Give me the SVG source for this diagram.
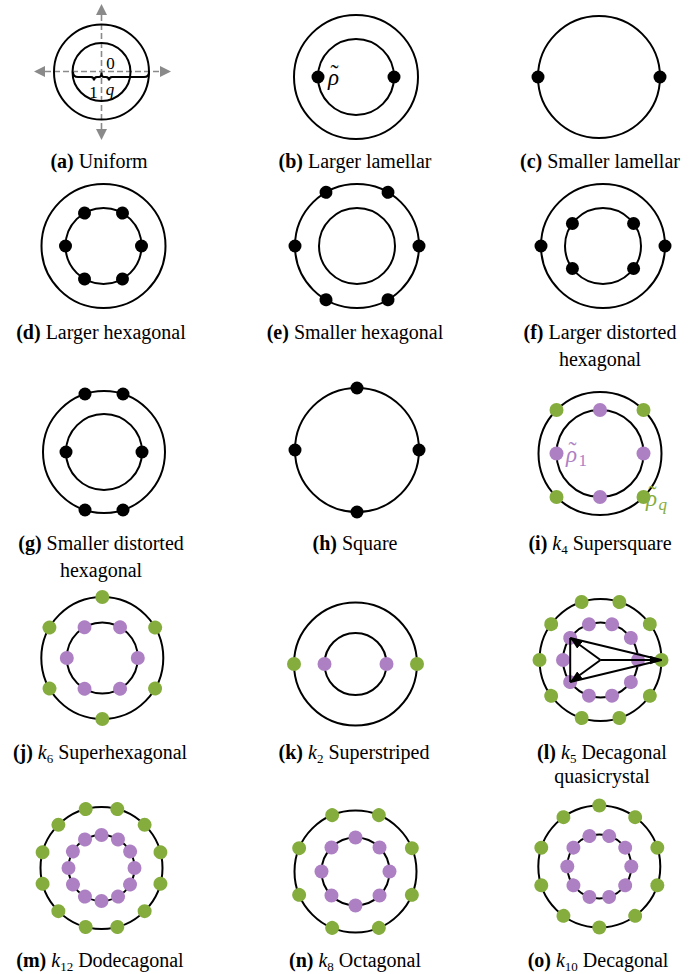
<svg xmlns="http://www.w3.org/2000/svg" width="696" height="974" viewBox="0 0 696 974">
<style>
.ring{fill:none;stroke:#000;stroke-width:2}
.bd{fill:#000}
.gd{fill:#85ad3e}
.pd{fill:#ad80c4}
.axis{stroke:#8a8a8a;stroke-width:1.6;stroke-dasharray:6,3;fill:none}
.ahd{fill:#8a8a8a}
text{font-family:'Liberation Serif','DejaVu Serif',serif}
.cap{font-size:20px;fill:#000;text-anchor:middle}
.b{font-weight:bold}
.i{font-style:italic}
.sub{font-size:13px}
.lab{font-size:17px;fill:#000}
.rho{font-size:23px;font-style:italic}
.tl{font-size:24px;font-style:normal}
.vec{stroke:#000;stroke-width:2;fill:none}
</style>
<defs>
<marker id="ah" markerWidth="12" markerHeight="9" refX="12" refY="4.5" orient="auto" markerUnits="userSpaceOnUse"><path d="M0,0 L12,4.5 L0,9 Z" fill="#000"/></marker>
</defs>

<!-- (a) -->
<g id="a">
<line class="axis" x1="101.5" y1="15" x2="101.5" y2="129"/>
<line class="axis" x1="45" y1="71.5" x2="160" y2="71.5"/>
<polygon class="ahd" points="101.5,4 96,15 107,15"/>
<polygon class="ahd" points="101.5,140 96,129 107,129"/>
<polygon class="ahd" points="34,71.5 45,66 45,77"/>
<polygon class="ahd" points="171,71.5 160,66 160,77"/>
<circle class="ring" cx="101.5" cy="72" r="47.5"/>
<circle class="ring" cx="101.5" cy="72" r="29"/>
<path class="ring" stroke-width="1.6" d="M73,72 Q73,77 78,77 L91,77 Q94,77 94,80.5 Q94,77 97,77 L99,77 Q101.5,77 101.5,72.5 Q101.5,77 104,77 L106,77 Q109,77 109,80.5 Q109,77 112,77 L144,77 Q149,77 149,72"/>
<text class="lab" x="110.5" y="69" text-anchor="middle">0</text>
<text class="lab" x="93.5" y="98" text-anchor="middle">1</text>
<text class="lab i" x="110" y="95" text-anchor="middle">q</text>
</g>
<text class="cap" x="99" y="168"><tspan class="b">(a)</tspan> Uniform</text>

<!-- (b) -->
<g id="b" transform="translate(356,77)">
<circle class="ring" r="62"/>
<circle class="ring" r="38"/>
<circle class="bd" cx="-38" r="6.5"/>
<circle class="bd" cx="38" r="6.5"/>
<text class="rho" x="-28" y="8" fill="#000">ρ<tspan class="tl" dx="-8.5" dy="-4">˜</tspan></text>
</g>
<text class="cap" x="355" y="168"><tspan class="b">(b)</tspan> Larger lamellar</text>

<!-- (c) -->
<g id="c" transform="translate(599,77)">
<circle class="ring" r="61"/>
<circle class="bd" cx="-61" r="6.5"/>
<circle class="bd" cx="61" r="6.5"/>
</g>
<text class="cap" x="600" y="168"><tspan class="b">(c)</tspan> Smaller lamellar</text>

<!-- (d) -->
<g id="d" transform="translate(103.5,246)">
<circle class="ring" r="62"/>
<circle class="ring" r="38"/>
<circle class="bd" cx="38" r="6.5"/>
<circle class="bd" cx="38" r="6.5" transform="rotate(60)"/>
<circle class="bd" cx="38" r="6.5" transform="rotate(120)"/>
<circle class="bd" cx="38" r="6.5" transform="rotate(180)"/>
<circle class="bd" cx="38" r="6.5" transform="rotate(240)"/>
<circle class="bd" cx="38" r="6.5" transform="rotate(300)"/>
</g>
<text class="cap" x="101" y="339"><tspan class="b">(d)</tspan> Larger hexagonal</text>

<!-- (e) -->
<g id="e" transform="translate(357,246)">
<circle class="ring" r="62"/>
<circle class="ring" r="38"/>
<circle class="bd" cx="62" r="6.5"/>
<circle class="bd" cx="62" r="6.5" transform="rotate(60)"/>
<circle class="bd" cx="62" r="6.5" transform="rotate(120)"/>
<circle class="bd" cx="62" r="6.5" transform="rotate(180)"/>
<circle class="bd" cx="62" r="6.5" transform="rotate(240)"/>
<circle class="bd" cx="62" r="6.5" transform="rotate(300)"/>
</g>
<text class="cap" x="355" y="339"><tspan class="b">(e)</tspan> Smaller hexagonal</text>

<!-- (f) -->
<g id="f" transform="translate(603,246)">
<circle class="ring" r="62"/>
<circle class="ring" r="38"/>
<circle class="bd" cx="-62" r="6.5"/>
<circle class="bd" cx="62" r="6.5"/>
<circle class="bd" cx="-30.6" cy="-22.5" r="6.5"/>
<circle class="bd" cx="30.6" cy="-22.5" r="6.5"/>
<circle class="bd" cx="-30.6" cy="22.5" r="6.5"/>
<circle class="bd" cx="30.6" cy="22.5" r="6.5"/>
</g>
<text class="cap" x="600" y="339"><tspan class="b">(f)</tspan> Larger distorted</text>
<text class="cap" x="600" y="366">hexagonal</text>

<!-- (g) -->
<g id="g" transform="translate(104,452)">
<circle class="ring" r="61"/>
<circle class="ring" r="38"/>
<circle class="bd" cx="-38" r="6.5"/>
<circle class="bd" cx="38" r="6.5"/>
<circle class="bd" cx="-19" cy="-58" r="6.5"/>
<circle class="bd" cx="19" cy="-58" r="6.5"/>
<circle class="bd" cx="-19" cy="58" r="6.5"/>
<circle class="bd" cx="19" cy="58" r="6.5"/>
</g>
<text class="cap" x="101" y="550"><tspan class="b">(g)</tspan> Smaller distorted</text>
<text class="cap" x="101" y="577">hexagonal</text>

<!-- (h) -->
<g id="h" transform="translate(357,450)">
<circle class="ring" r="62"/>
<circle class="bd" cx="-62" r="6.5"/>
<circle class="bd" cx="62" r="6.5"/>
<circle class="bd" cy="-62" r="6.5"/>
<circle class="bd" cy="62" r="6.5"/>
</g>
<text class="cap" x="355" y="550"><tspan class="b">(h)</tspan> Square</text>

<!-- (i) -->
<g id="i" transform="translate(600,453.5)">
<circle class="ring" r="61.5"/>
<circle class="ring" r="43.5"/>
<circle class="gd" cx="-43.5" cy="-43.5" r="7"/>
<circle class="gd" cx="43.5" cy="-43.5" r="7"/>
<circle class="gd" cx="-43.5" cy="43.5" r="7"/>
<circle class="gd" cx="43.5" cy="43.5" r="7"/>
<circle class="pd" cx="-43.5" r="7"/>
<circle class="pd" cx="43.5" r="7"/>
<circle class="pd" cy="-43.5" r="7"/>
<circle class="pd" cy="43.5" r="7"/>
<text class="rho" x="-34" y="8" fill="#ad80c4">ρ<tspan class="tl" dx="-8.5" dy="-4">˜</tspan><tspan font-style="normal" font-size="17" dx="2" dy="8">1</tspan></text>
<text class="rho" x="46" y="52" fill="#85ad3e">ρ<tspan class="tl" dx="-8.5" dy="-4">˜</tspan><tspan font-size="17" dx="2" dy="8">q</tspan></text>
</g>
<text class="cap" x="600" y="550"><tspan class="b">(i)</tspan> <tspan class="i">k</tspan><tspan class="sub" dy="4">4</tspan><tspan dy="-4"> Supersquare</tspan></text>

<!-- (j) -->
<g id="j" transform="translate(102.3,658)">
<circle class="ring" r="61"/>
<circle class="ring" r="35.5"/>
<circle class="gd" cx="61" r="7" transform="rotate(30)"/>
<circle class="gd" cx="61" r="7" transform="rotate(90)"/>
<circle class="gd" cx="61" r="7" transform="rotate(150)"/>
<circle class="gd" cx="61" r="7" transform="rotate(210)"/>
<circle class="gd" cx="61" r="7" transform="rotate(270)"/>
<circle class="gd" cx="61" r="7" transform="rotate(330)"/>
<circle class="pd" cx="35.5" r="7"/>
<circle class="pd" cx="35.5" r="7" transform="rotate(60)"/>
<circle class="pd" cx="35.5" r="7" transform="rotate(120)"/>
<circle class="pd" cx="35.5" r="7" transform="rotate(180)"/>
<circle class="pd" cx="35.5" r="7" transform="rotate(240)"/>
<circle class="pd" cx="35.5" r="7" transform="rotate(300)"/>
</g>
<text class="cap" x="100" y="759"><tspan class="b">(j)</tspan> <tspan class="i">k</tspan><tspan class="sub" dy="4">6</tspan><tspan dy="-4"> Superhexagonal</tspan></text>

<!-- (k) -->
<g id="k" transform="translate(355.5,664)">
<circle class="ring" r="61.5"/>
<circle class="ring" r="31"/>
<circle class="gd" cx="-61.5" r="7"/>
<circle class="gd" cx="61.5" r="7"/>
<circle class="pd" cx="-31" r="7"/>
<circle class="pd" cx="31" r="7"/>
</g>
<text class="cap" x="354" y="759"><tspan class="b">(k)</tspan> <tspan class="i">k</tspan><tspan class="sub" dy="4">2</tspan><tspan dy="-4"> Superstriped</tspan></text>

<!-- (l) -->
<g id="l" transform="translate(600.5,660)">
<circle class="ring" r="61"/>
<circle class="ring" r="37.5"/>
<circle class="gd" cx="61" r="7"/>
<circle class="gd" cx="61" r="7" transform="rotate(36)"/>
<circle class="gd" cx="61" r="7" transform="rotate(72)"/>
<circle class="gd" cx="61" r="7" transform="rotate(108)"/>
<circle class="gd" cx="61" r="7" transform="rotate(144)"/>
<circle class="gd" cx="61" r="7" transform="rotate(180)"/>
<circle class="gd" cx="61" r="7" transform="rotate(216)"/>
<circle class="gd" cx="61" r="7" transform="rotate(252)"/>
<circle class="gd" cx="61" r="7" transform="rotate(288)"/>
<circle class="gd" cx="61" r="7" transform="rotate(324)"/>
<circle class="pd" cx="37.5" r="7"/>
<circle class="pd" cx="37.5" r="7" transform="rotate(36)"/>
<circle class="pd" cx="37.5" r="7" transform="rotate(72)"/>
<circle class="pd" cx="37.5" r="7" transform="rotate(108)"/>
<circle class="pd" cx="37.5" r="7" transform="rotate(144)"/>
<circle class="pd" cx="37.5" r="7" transform="rotate(180)"/>
<circle class="pd" cx="37.5" r="7" transform="rotate(216)"/>
<circle class="pd" cx="37.5" r="7" transform="rotate(252)"/>
<circle class="pd" cx="37.5" r="7" transform="rotate(288)"/>
<circle class="pd" cx="37.5" r="7" transform="rotate(324)"/>
</g>
<g id="connectors">
<line class="vec" x1="570.2" y1="638" x2="570.2" y2="682"/>
<line class="vec" x1="661.5" y1="660" x2="570.2" y2="638"/>
<line class="vec" x1="661.5" y1="660" x2="570.2" y2="682"/>
<line class="vec" x1="600.5" y1="660" x2="570.2" y2="638" marker-end="url(#ah)"/>
<line class="vec" x1="600.5" y1="660" x2="570.2" y2="682" marker-end="url(#ah)"/>
<line class="vec" x1="600.5" y1="660" x2="661.5" y2="660" marker-end="url(#ah)"/>
</g>
<text class="cap" x="602" y="759"><tspan class="b">(l)</tspan> <tspan class="i">k</tspan><tspan class="sub" dy="4">5</tspan><tspan dy="-4"> Decagonal</tspan></text>
<text class="cap" x="602" y="783">quasicrystal</text>

<!-- (m) -->
<g id="m" transform="translate(101.5,868)">
<circle class="ring" r="61"/>
<circle class="ring" r="33"/>
<circle class="gd" cx="61" r="7" transform="rotate(15)"/>
<circle class="gd" cx="61" r="7" transform="rotate(45)"/>
<circle class="gd" cx="61" r="7" transform="rotate(75)"/>
<circle class="gd" cx="61" r="7" transform="rotate(105)"/>
<circle class="gd" cx="61" r="7" transform="rotate(135)"/>
<circle class="gd" cx="61" r="7" transform="rotate(165)"/>
<circle class="gd" cx="61" r="7" transform="rotate(195)"/>
<circle class="gd" cx="61" r="7" transform="rotate(225)"/>
<circle class="gd" cx="61" r="7" transform="rotate(255)"/>
<circle class="gd" cx="61" r="7" transform="rotate(285)"/>
<circle class="gd" cx="61" r="7" transform="rotate(315)"/>
<circle class="gd" cx="61" r="7" transform="rotate(345)"/>
<circle class="pd" cx="33" r="7"/>
<circle class="pd" cx="33" r="7" transform="rotate(30)"/>
<circle class="pd" cx="33" r="7" transform="rotate(60)"/>
<circle class="pd" cx="33" r="7" transform="rotate(90)"/>
<circle class="pd" cx="33" r="7" transform="rotate(120)"/>
<circle class="pd" cx="33" r="7" transform="rotate(150)"/>
<circle class="pd" cx="33" r="7" transform="rotate(180)"/>
<circle class="pd" cx="33" r="7" transform="rotate(210)"/>
<circle class="pd" cx="33" r="7" transform="rotate(240)"/>
<circle class="pd" cx="33" r="7" transform="rotate(270)"/>
<circle class="pd" cx="33" r="7" transform="rotate(300)"/>
<circle class="pd" cx="33" r="7" transform="rotate(330)"/>
</g>
<text class="cap" x="100" y="967"><tspan class="b">(m)</tspan> <tspan class="i">k</tspan><tspan class="sub" dy="4">12</tspan><tspan dy="-4"> Dodecagonal</tspan></text>

<!-- (n) -->
<g id="n" transform="translate(355.5,871.5)">
<circle class="ring" r="61"/>
<circle class="ring" r="34"/>
<circle class="gd" cx="61" r="7" transform="rotate(22.5)"/>
<circle class="gd" cx="61" r="7" transform="rotate(67.5)"/>
<circle class="gd" cx="61" r="7" transform="rotate(112.5)"/>
<circle class="gd" cx="61" r="7" transform="rotate(157.5)"/>
<circle class="gd" cx="61" r="7" transform="rotate(202.5)"/>
<circle class="gd" cx="61" r="7" transform="rotate(247.5)"/>
<circle class="gd" cx="61" r="7" transform="rotate(292.5)"/>
<circle class="gd" cx="61" r="7" transform="rotate(337.5)"/>
<circle class="pd" cx="34" r="7"/>
<circle class="pd" cx="34" r="7" transform="rotate(45)"/>
<circle class="pd" cx="34" r="7" transform="rotate(90)"/>
<circle class="pd" cx="34" r="7" transform="rotate(135)"/>
<circle class="pd" cx="34" r="7" transform="rotate(180)"/>
<circle class="pd" cx="34" r="7" transform="rotate(225)"/>
<circle class="pd" cx="34" r="7" transform="rotate(270)"/>
<circle class="pd" cx="34" r="7" transform="rotate(315)"/>
</g>
<text class="cap" x="355" y="967"><tspan class="b">(n)</tspan> <tspan class="i">k</tspan><tspan class="sub" dy="4">8</tspan><tspan dy="-4"> Octagonal</tspan></text>

<!-- (o) -->
<g id="o" transform="translate(599.3,866.5)">
<circle class="ring" r="61"/>
<circle class="ring" r="32"/>
<circle class="gd" cx="61" r="7" transform="rotate(18)"/>
<circle class="gd" cx="61" r="7" transform="rotate(54)"/>
<circle class="gd" cx="61" r="7" transform="rotate(90)"/>
<circle class="gd" cx="61" r="7" transform="rotate(126)"/>
<circle class="gd" cx="61" r="7" transform="rotate(162)"/>
<circle class="gd" cx="61" r="7" transform="rotate(198)"/>
<circle class="gd" cx="61" r="7" transform="rotate(234)"/>
<circle class="gd" cx="61" r="7" transform="rotate(270)"/>
<circle class="gd" cx="61" r="7" transform="rotate(306)"/>
<circle class="gd" cx="61" r="7" transform="rotate(342)"/>
<circle class="pd" cx="32" r="7"/>
<circle class="pd" cx="32" r="7" transform="rotate(36)"/>
<circle class="pd" cx="32" r="7" transform="rotate(72)"/>
<circle class="pd" cx="32" r="7" transform="rotate(108)"/>
<circle class="pd" cx="32" r="7" transform="rotate(144)"/>
<circle class="pd" cx="32" r="7" transform="rotate(180)"/>
<circle class="pd" cx="32" r="7" transform="rotate(216)"/>
<circle class="pd" cx="32" r="7" transform="rotate(252)"/>
<circle class="pd" cx="32" r="7" transform="rotate(288)"/>
<circle class="pd" cx="32" r="7" transform="rotate(324)"/>
</g>
<text class="cap" x="598" y="967"><tspan class="b">(o)</tspan> <tspan class="i">k</tspan><tspan class="sub" dy="4">10</tspan><tspan dy="-4"> Decagonal</tspan></text>
</svg>
